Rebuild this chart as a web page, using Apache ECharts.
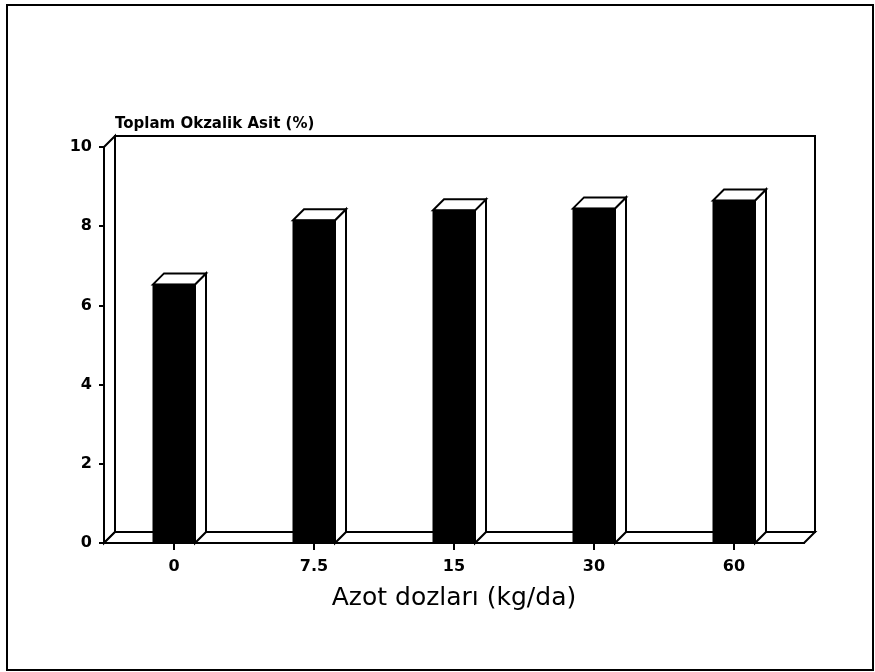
<!DOCTYPE html>
<html>
<head>
<meta charset="utf-8">
<script src="https://cdn.jsdelivr.net/npm/echarts@6/dist/echarts.min.js"></script>
<style>
  html, body { margin: 0; padding: 0; background: #fff; }
  #grafico { width: 875px; height: 672px; }
</style>
</head>
<body>
<div id="grafico"></div>
<script>
// azot dozlari (kg/da) ve toplam okzalik asit (%)
const dozlar = ['0', '7.5', '15', '30', '60']
const okzalikAsit = [6.53, 8.15, 8.4, 8.45, 8.65]
const yTicks = [0, 2, 4, 6, 8, 10]

const DX = 11   // derinlik (3B gorunum)
const DY = -11
const fontAile = '"DejaVu Sans", Verdana, sans-serif'

let myChart = echarts.init(document.getElementById('grafico'))

function duvarlar(params, api) {
  let cs = params.coordSys
  let x0 = cs.x, x1 = cs.x + cs.width
  let yb = cs.y + cs.height, yt = cs.y
  let st = { fill: '#fff', stroke: '#000', lineWidth: 2 }
  return {
    type: 'group',
    children: [
      // arka duvar
      { type: 'rect', shape: { x: x0 + DX, y: yt + DY, width: cs.width, height: cs.height }, style: st },
      // sol duvar
      { type: 'polygon', shape: { points: [[x0, yb], [x0, yt], [x0 + DX, yt + DY], [x0 + DX, yb + DY]] }, style: st },
      // zemin
      { type: 'polygon', shape: { points: [[x0, yb], [x1, yb], [x1 + DX, yb + DY], [x0 + DX, yb + DY]] }, style: st }
    ]
  }
}

function cubuk(params, api) {
  let top = api.coord([api.value(0), api.value(1)])
  let base = api.coord([api.value(0), 0])
  let w = api.size([1, 0])[0] * 0.3
  let x0 = top[0] - w / 2, x1 = top[0] + w / 2
  let ut = top[1], ab = base[1]
  let beyaz = { fill: '#fff', stroke: '#000', lineWidth: 2 }
  return {
    type: 'group',
    children: [
      { type: 'polygon', shape: { points: [[x1, ab], [x1, ut], [x1 + DX, ut + DY], [x1 + DX, ab + DY]] }, style: beyaz },
      { type: 'polygon', shape: { points: [[x0, ut], [x1, ut], [x1 + DX, ut + DY], [x0 + DX, ut + DY]] }, style: beyaz },
      { type: 'rect', shape: { x: x0, y: ut, width: w, height: ab - ut }, style: { fill: '#000', stroke: '#000', lineWidth: 1 } }
    ]
  }
}

let option = {
  animation: false,
  backgroundColor: '#fff',
  title: {
    text: 'Toplam Okzalik Asit (%)',
    left: 110,
    top: 112,
    textStyle: { fontFamily: fontAile, fontSize: 15, fontWeight: 'bold', color: '#000' }
  },
  graphic: [
    {
      type: 'rect',
      shape: { x: 7, y: 5, width: 866, height: 665 },
      style: { fill: 'none', stroke: '#000', lineWidth: 2 },
      z: 100
    }
  ],
  grid: { left: 104, right: 71, top: 147, bottom: 129 },
  xAxis: {
    type: 'category',
    data: dozlar,
    name: 'Azot dozları (kg/da)',
    nameLocation: 'middle',
    nameGap: 43,
    nameMoveOverlap: false,
    nameTextStyle: { fontFamily: fontAile, fontSize: 25, color: '#000' },
    axisLine: { show: true, lineStyle: { color: '#000', width: 2 } },
    axisTick: { show: true, alignWithLabel: true, length: 7, lineStyle: { color: '#000', width: 2 } },
    axisLabel: { margin: 16, fontFamily: fontAile, fontSize: 16, fontWeight: 'bold', color: '#000' },
    splitLine: { show: false }
  },
  yAxis: {
    type: 'value',
    min: yTicks[0],
    max: yTicks[yTicks.length - 1],
    interval: 2,
    axisLine: { show: true, lineStyle: { color: '#000', width: 2 } },
    axisTick: { show: true, length: 5, lineStyle: { color: '#000', width: 2 } },
    axisLabel: { margin: 12, fontFamily: fontAile, fontSize: 16, fontWeight: 'bold', color: '#000' },
    splitLine: { show: false }
  },
  series: [
    {
      name: 'Duvar',
      type: 'custom',
      renderItem: duvarlar,
      data: [[0, 0]],
      silent: true,
      z: 1
    },
    {
      name: 'Okzalik Asit',
      type: 'custom',
      renderItem: cubuk,
      data: okzalikAsit.map((v, i) => [i, v]),
      z: 3
    }
  ]
}

myChart.setOption(option)
</script>
</body>
</html>
